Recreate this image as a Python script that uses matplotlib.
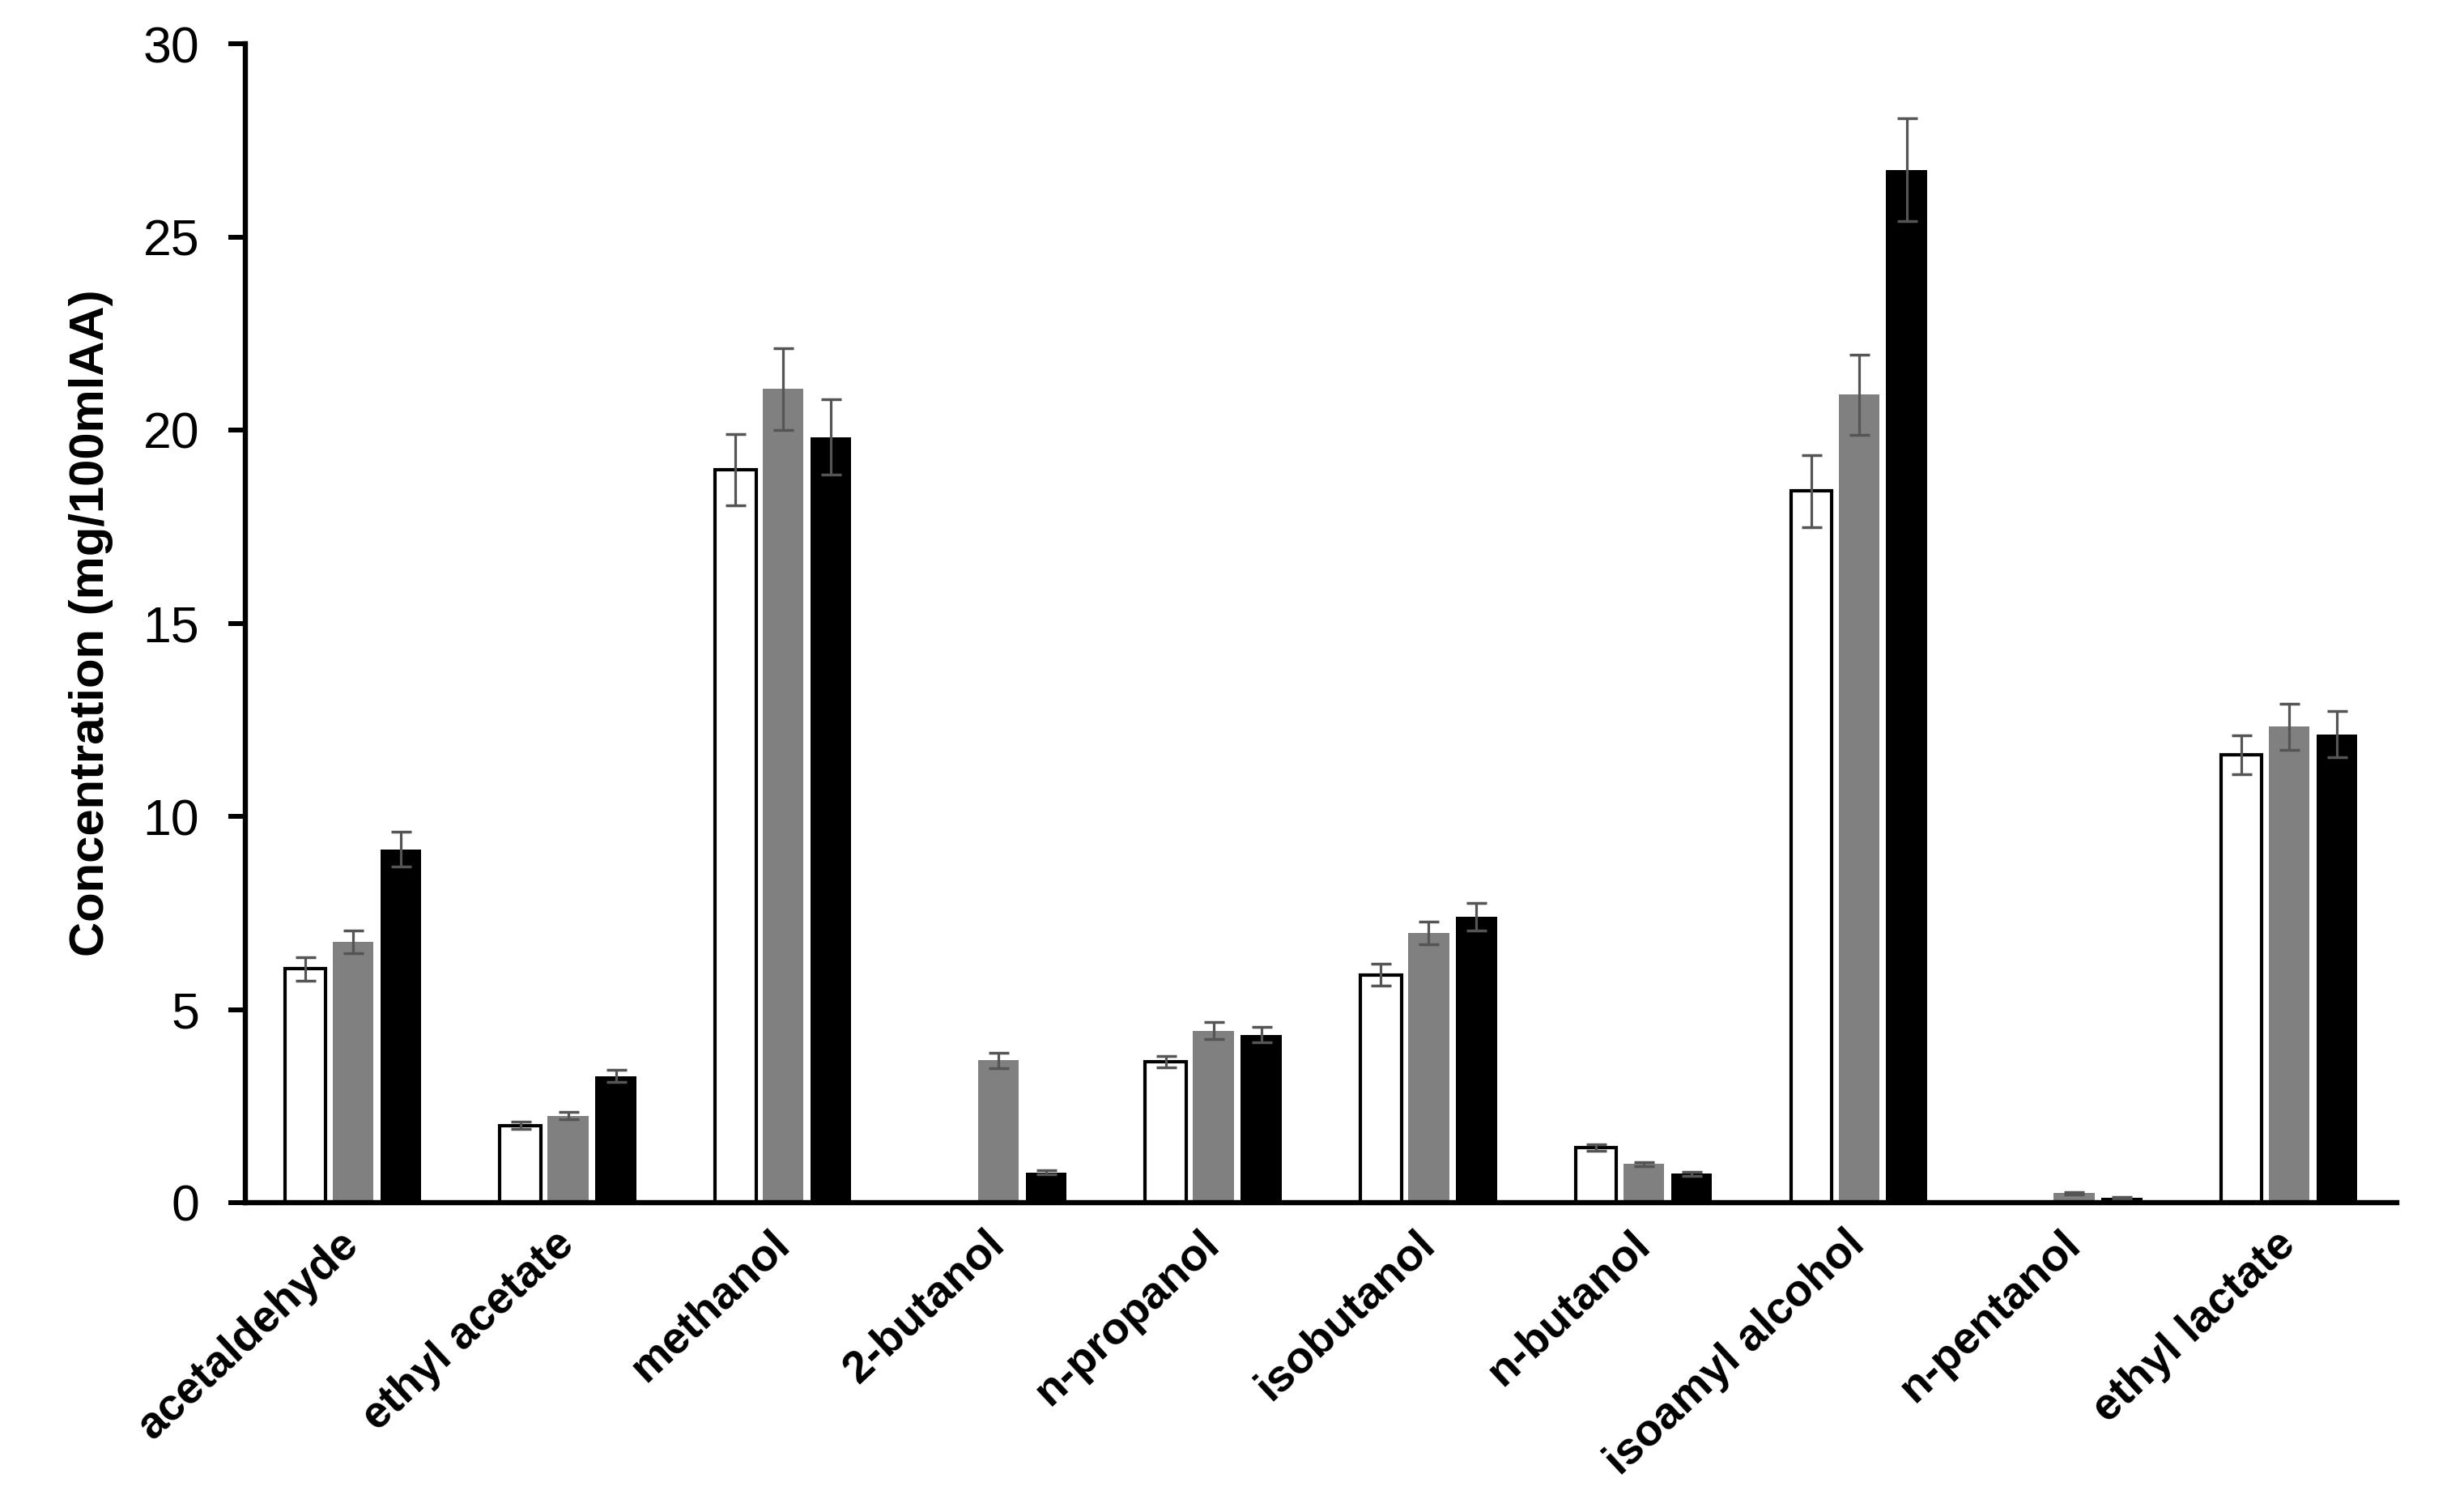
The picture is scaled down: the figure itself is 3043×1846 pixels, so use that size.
import matplotlib
matplotlib.use("Agg")
import matplotlib.pyplot as plt
import numpy as np

categories = ["acetaldehyde", "ethyl acetate", "methanol", "2-butanol", "n-propanol",
              "isobutanol", "n-butanol", "isoamyl alcohol", "n-pentanol", "ethyl lactate"]

white_vals = [6.05, 2.00, 18.97, 0.00, 3.65, 5.90, 1.42, 18.42, 0.00, 11.60]
white_err  = [0.30, 0.10, 0.93, 0.00, 0.15, 0.28, 0.08, 0.94, 0.00, 0.50]
gray_vals  = [6.75, 2.25, 21.06, 3.68, 4.45, 6.98, 1.00, 20.92, 0.25, 12.32]
gray_err   = [0.30, 0.10, 1.05, 0.20, 0.22, 0.30, 0.05, 1.04, 0.03, 0.60]
black_vals = [9.15, 3.28, 19.82, 0.78, 4.35, 7.40, 0.75, 26.74, 0.12, 12.12]
black_err  = [0.45, 0.15, 0.98, 0.05, 0.20, 0.35, 0.05, 1.33, 0.03, 0.60]

yticks = [0, 5, 10, 15, 20, 25, 30]

plt.rcParams['font.family'] = ['Liberation Sans', 'DejaVu Sans']

fig = plt.figure(figsize=(30.43, 18.46), dpi=100)
ax = fig.add_axes([303/3043, 1 - 1485/1846, 2657/3043, (1485-54)/1846])

x = np.arange(len(categories))
w = 0.19
step = 0.222

def mask_err(vals, errs):
    return [e if v > 0 else 0 for v, e in zip(vals, errs)]

ekw = dict(ecolor='#555555', elinewidth=2.3, capsize=9, capthick=2.5)

ax.bar(x - step, white_vals, w, color='white', edgecolor='black', linewidth=3,
       yerr=mask_err(white_vals, white_err), error_kw=ekw, zorder=2)
ax.bar(x, gray_vals, w, color='#808080', edgecolor='none',
       yerr=mask_err(gray_vals, gray_err), error_kw=ekw, zorder=2)
ax.bar(x + step, black_vals, w, color='black', edgecolor='none',
       yerr=mask_err(black_vals, black_err), error_kw=ekw, zorder=2)

ax.set_xlim(-0.5, 9.5)
ax.set_ylim(0, 30)
ax.set_yticks(yticks)
ax.set_yticklabels([str(t) for t in yticks], fontsize=45)
ax.tick_params(axis='y', direction='out', length=15, width=4.3, pad=26)

ax.set_xticks(x)
ax.set_xticklabels(categories, fontsize=40, fontweight='bold', rotation=43,
                   ha='right', va='center', rotation_mode='anchor')
ax.tick_params(axis='x', length=0, pad=32)

for s in ['top', 'right']:
    ax.spines[s].set_visible(False)
for s in ['left', 'bottom']:
    ax.spines[s].set_linewidth(4.6)
    ax.spines[s].set_color('black')

ax.set_ylabel("Concentration (mg/100mlAA)", fontsize=43, fontweight='bold')
ax.yaxis.set_label_coords(-0.0613, 0.5)

fig.savefig("out.png", dpi=100, facecolor='white')
